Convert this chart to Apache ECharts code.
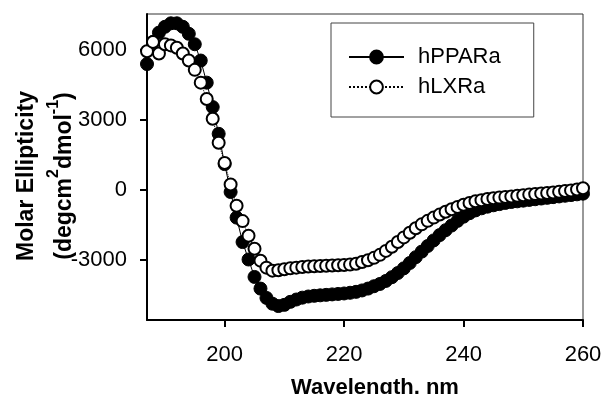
<!DOCTYPE html>
<html>
<head>
<meta charset="utf-8">
<script src="https://cdn.jsdelivr.net/npm/echarts@6/dist/echarts.min.js"></script>
<style>
  html, body { margin: 0; padding: 0; background: #fff; }
  #chart { width: 603px; height: 394px; }
</style>
</head>
<body>
<div id="chart"></div>
<script>
// wavelength, nm
const wavelengths = [
  187, 188, 189, 190, 191, 192, 193, 194, 195, 196,
  197, 198, 199, 200, 201, 202, 203, 204, 205, 206,
  207, 208, 209, 210, 211, 212, 213, 214, 215, 216,
  217, 218, 219, 220, 221, 222, 223, 224, 225, 226,
  227, 228, 229, 230, 231, 232, 233, 234, 235, 236,
  237, 238, 239, 240, 241, 242, 243, 244, 245, 246,
  247, 248, 249, 250, 251, 252, 253, 254, 255, 256,
  257, 258, 259, 260
];

// molar ellipticity (degcm2dmol-1)
const hPPARa = [
  5400, 6350, 6750, 7000, 7150, 7150, 7000, 6700, 6250, 5550,
  4600, 3550, 2400, 1100, -100, -1200, -2250, -3000, -3750, -4250,
  -4650, -4900, -5000, -4950, -4820, -4720, -4640, -4590, -4560, -4540,
  -4520, -4500, -4480, -4460, -4430, -4390, -4330, -4250, -4150, -4050,
  -3920, -3760, -3580, -3380, -3150, -2900, -2660, -2420, -2180, -1950,
  -1740, -1540, -1340, -1160, -1010, -890, -800, -730, -670, -620,
  -570, -530, -500, -470, -440, -410, -380, -350, -320, -290,
  -260, -230, -200, -170
];

const hLXRa = [
  5950, 6350, 5850, 6250, 6200, 6100, 5850, 5550, 5150, 4600,
  3900, 3050, 2020, 1150, 220, -690, -1350, -1980, -2540, -3050,
  -3350, -3480, -3460, -3420, -3380, -3350, -3320, -3300, -3290, -3280,
  -3270, -3260, -3250, -3240, -3220, -3180, -3110, -3030, -2930, -2800,
  -2630, -2450, -2250, -2050, -1850, -1660, -1490, -1340, -1200, -1070,
  -950, -840, -740, -650, -570, -500, -450, -400, -370, -340,
  -310, -290, -260, -240, -210, -190, -160, -140, -120, -90,
  -60, -30, 10, 60
];

const xTicks = [200, 220, 240, 260];
const yTicks = [-3000, 0, 3000, 6000];

const FONT = 'Liberation Sans';

const chart = echarts.init(document.getElementById('chart'));

const pairs = (ys) => wavelengths.map((x, i) => [x, ys[i]]);

chart.setOption({
  animation: false,
  backgroundColor: '#fff',
  grid: {
    left: 147,
    right: 20,
    top: 14,
    bottom: 74,
    show: true,
    borderColor: '#333',
    borderWidth: 1,
    containLabel: false,
    outerBoundsMode: 'none',
  },
  legend: {
    orient: 'vertical',
    left: 331,
    top: 23,
    padding: [19, 33, 15, 17],
    borderColor: '#444',
    borderWidth: 1,
    itemWidth: 55,
    itemHeight: 16,
    itemGap: 0,
    textStyle: {
      fontFamily: FONT,
      fontSize: 22,
      color: '#000',
      lineHeight: 30,
      padding: [0, 0, 0, 9],
    },
    data: ['hPPARa', 'hLXRa'],
  },
  xAxis: {
    type: 'value',
    min: 187,
    max: 260,
    name: 'Wavelength, nm',
    nameLocation: 'middle',
    nameGap: 57,
    nameTextStyle: {
      fontFamily: FONT,
      fontSize: 22,
      fontWeight: 'bold',
      color: '#000',
      padding: [0, 0, 0, 20],
    },
    axisLine: { show: true, onZero: false, lineStyle: { color: '#000', width: 2 } },
    axisTick: {
      show: true,
      inside: false,
      length: 7,
      lineStyle: { color: '#000', width: 2 },
      customValues: xTicks,
    },
    axisLabel: {
      fontFamily: FONT,
      fontSize: 22,
      color: '#000',
      margin: 24,
      customValues: xTicks,
      formatter: (v) => String(v),
    },
    splitLine: { show: false },
  },
  yAxis: {
    type: 'value',
    min: -5600,
    max: 7550,
    name: '{t|Molar Ellipticity}\n{t|(degcm}{s|2}{t|dmol}{s|-1}{t|)}',
    nameLocation: 'middle',
    nameRotate: 90,
    nameGap: 63,
    nameMoveOverlap: false,
    nameTextStyle: {
      padding: [0, 18, 0, 0],
      rich: {
        t: { fontFamily: FONT, fontSize: 23, fontWeight: 'bold', color: '#000', lineHeight: 38 },
        s: { fontFamily: FONT, fontSize: 16, fontWeight: 'bold', color: '#000', verticalAlign: 'top' },
      },
    },
    axisLine: { show: true, onZero: false, lineStyle: { color: '#000', width: 2 } },
    axisTick: {
      show: true,
      inside: false,
      length: 7,
      lineStyle: { color: '#000', width: 2 },
      customValues: yTicks,
    },
    axisLabel: {
      fontFamily: FONT,
      fontSize: 22,
      color: '#000',
      margin: 20,
      customValues: yTicks,
      formatter: (v) => String(v),
    },
    splitLine: { show: false },
  },
  series: [
    {
      name: 'hPPARa',
      type: 'line',
      data: pairs(hPPARa),
      symbol: 'circle',
      symbolSize: 13,
      itemStyle: { color: '#000', borderColor: '#000', borderWidth: 1 },
      lineStyle: { color: '#000', width: 1, type: 'solid' },
    },
    {
      name: 'hLXRa',
      type: 'line',
      data: pairs(hLXRa),
      symbol: 'circle',
      symbolSize: 12,
      itemStyle: { color: '#fff', borderColor: '#000', borderWidth: 2 },
      lineStyle: { color: '#000', width: 1, type: 'dotted' },
    },
  ],
});
</script>
</body>
</html>
